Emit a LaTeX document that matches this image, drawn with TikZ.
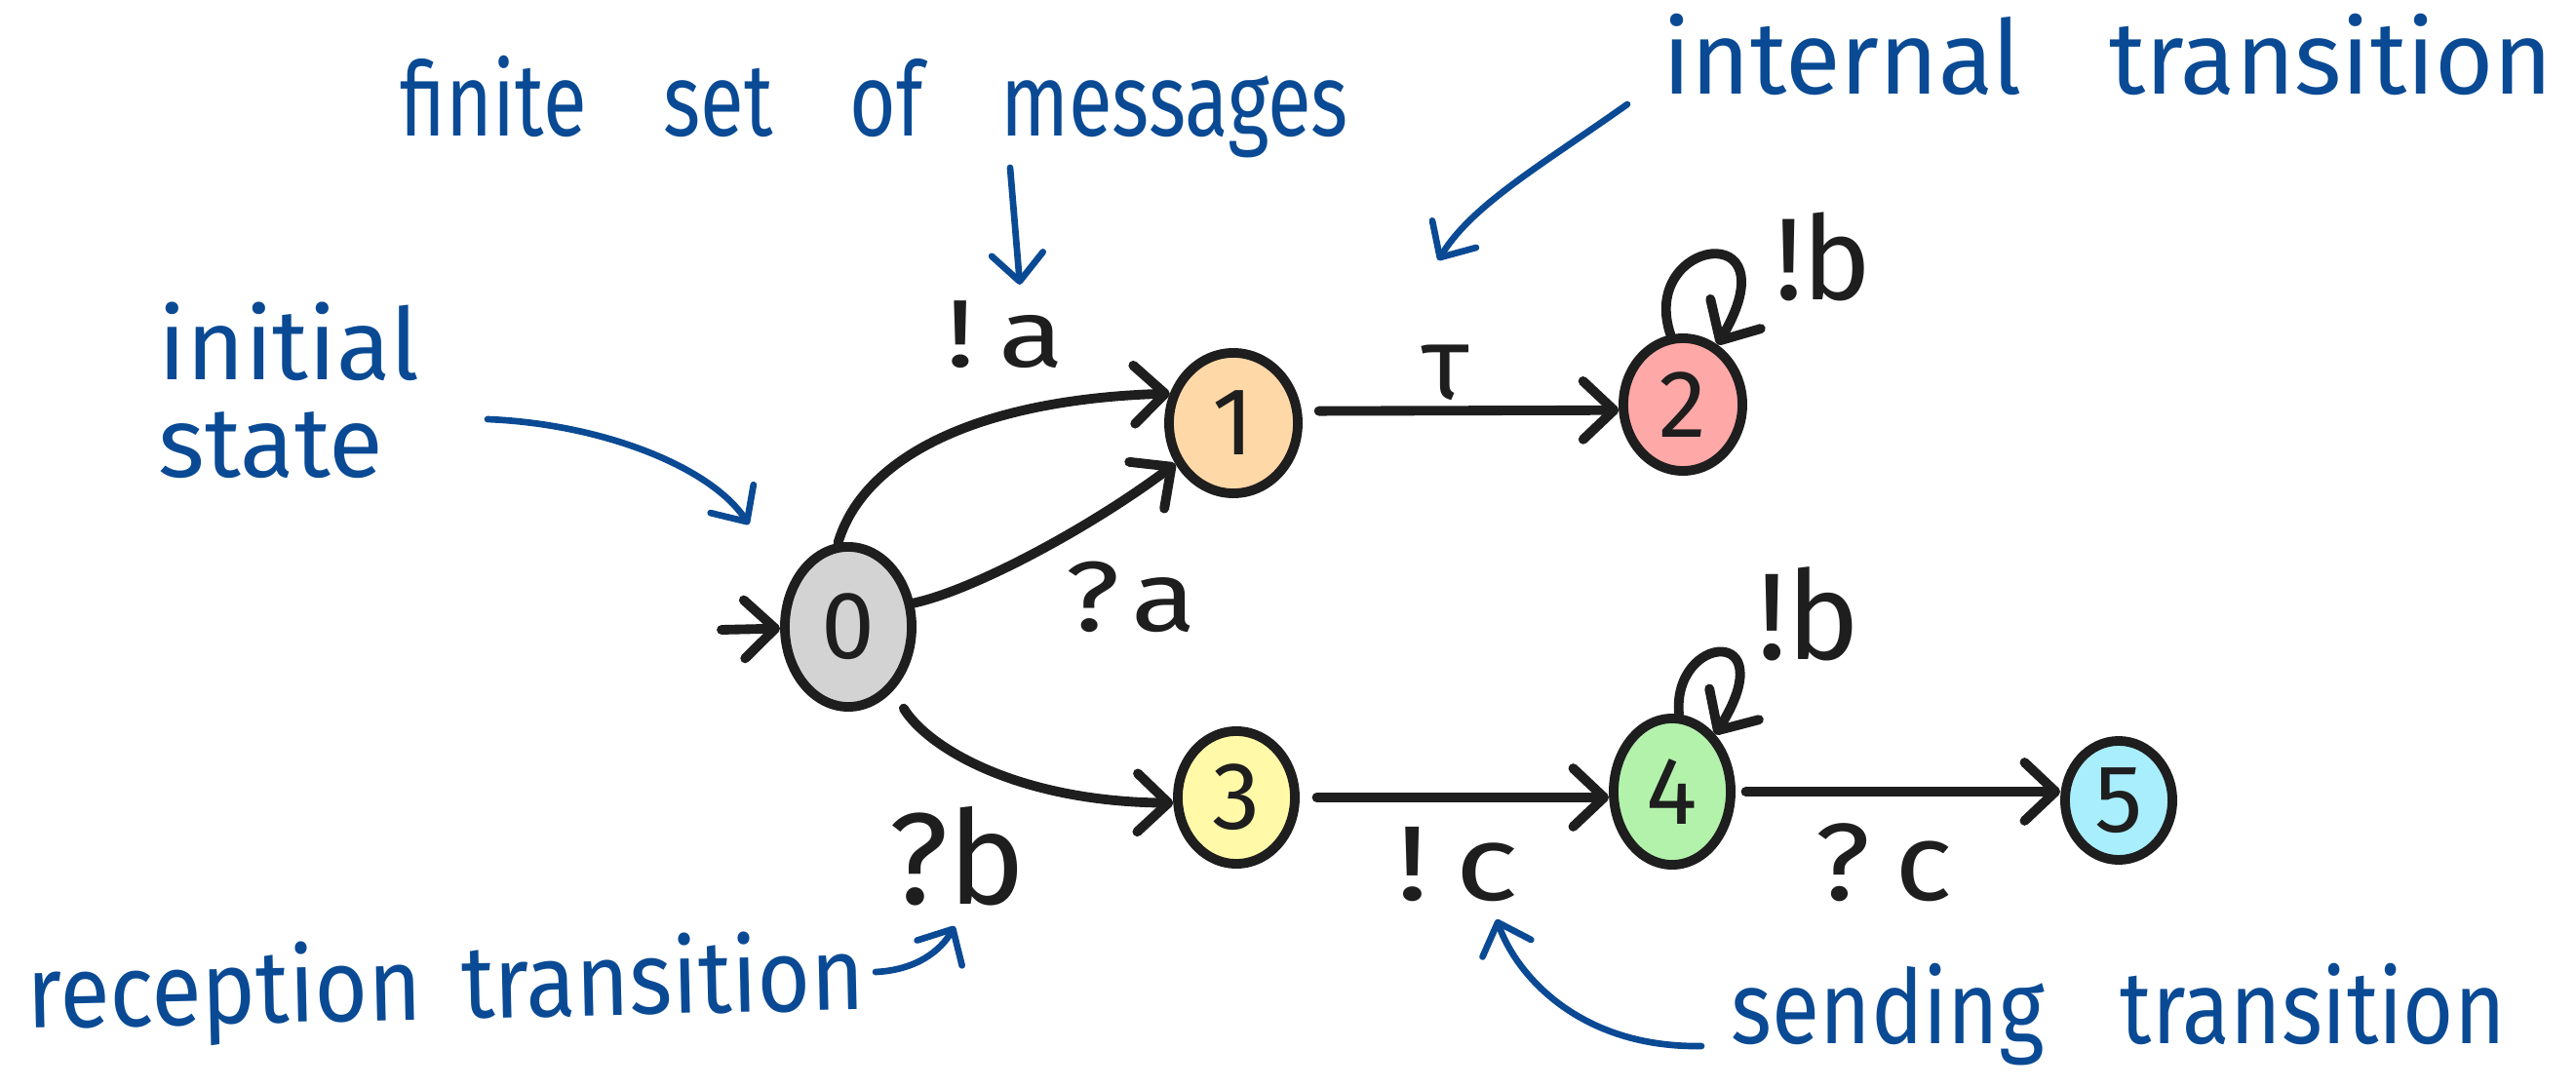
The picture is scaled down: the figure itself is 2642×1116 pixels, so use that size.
\documentclass[tikz,border=0pt]{standalone}
\usepackage{fontspec}
\setmainfont{Fira Sans}
\usetikzlibrary{arrows.meta,shapes.geometric}

\definecolor{ink}{HTML}{1E1E1E}
\definecolor{pen}{HTML}{0A4A94}
\definecolor{fillzero}{HTML}{D3D3D3}
\definecolor{fillone}{HTML}{FFD8A8}
\definecolor{filltwo}{HTML}{FFA8A8}
\definecolor{fillthree}{HTML}{FFF9A8}
\definecolor{fillfour}{HTML}{B2F2AB}
\definecolor{fillfive}{HTML}{A8EEFC}

\tikzset{
  x=0.01cm, y=-0.01cm,
  state/.style={ellipse, draw=ink, line width=2.8pt, inner sep=0pt,
    text=ink, font=\fontsize{28}{30}\selectfont},
  trans/.style={draw=ink, line width=2.8pt, line cap=round,
    -{Straight Barb[length=9pt,width=17pt,round]}},
  act/.style={text=ink, inner sep=0pt, anchor=base},
  note/.style={text=pen, inner sep=0pt, anchor=base west,
    font=\fontsize{30}{25}\selectfont},
  pointer/.style={draw=pen, line width=1.9pt, line cap=round,
    -{Straight Barb[length=8pt,width=15pt,round]}},
}

\begin{document}
\begin{tikzpicture}
\useasboundingbox (0,0) rectangle (2642,1116);

% states
\node[state, fill=fillzero,  minimum width=1.30cm, minimum height=1.64cm] (n0) at (870,643) {0};
\node[state, fill=fillone,   minimum width=1.32cm, minimum height=1.44cm] (n1) at (1265,434) {1};
\node[state, fill=filltwo,   minimum width=1.22cm, minimum height=1.36cm] (n2) at (1726,415) {2};
\node[state, fill=fillthree, minimum width=1.20cm, minimum height=1.36cm] (n3) at (1268,818) {3};
\node[state, fill=fillfour,  minimum width=1.20cm, minimum height=1.50cm] (n4) at (1715,812) {4};
\node[state, fill=fillfive,  minimum width=1.10cm, minimum height=1.22cm] (n5) at (2173,821) {5};

% transitions
\coordinate (init) at (740,646);
\draw[trans] (init) -- (n0);
\draw[trans] (n0.97) .. controls (885,470) and (1000,410) .. (n1.155);
\draw[trans] (n0.20) .. controls (1000,605) and (1120,540) .. (n1.215);
\draw[trans, shorten <=5pt] (n1.10) -- (n2.185);
\draw[trans] (n2.100) .. controls (1680,245) and (1840,220) .. (n2.60);
\draw[trans, shorten <=6pt] (n0.-55) .. controls (950,765) and (1040,822) .. (n3.185);
\draw[trans, shorten <=5pt] (n3.east) -- (n3.east -| n4.west);
\draw[trans] (n4.85) .. controls (1715,650) and (1830,640) .. (n4.53);
\draw[trans, shorten <=3pt] (n4.east) -- (n4.east -| n5.west);

% transition labels
\node[act, font=\fontsize{28}{30}\selectfont] (la1) at (1031,377) {\scalebox{1.25}[1]{!\hspace{0.2em}a}};
\node[act, font=\fontsize{29}{30}\selectfont] (la2) at (1160,648) {\scalebox{1.2}[1]{?\hspace{0.1em}a}};
\node[act, font=\fontsize{30}{30}\selectfont] (ltau) at (1483,410) {τ};
\node[act, font=\fontsize{34}{30}\selectfont] (lb2) at (1870,308) {!b};
\node[act, font=\fontsize{36}{30}\selectfont] (lb4) at (1855,677) {!b};
\node[act, font=\fontsize{38}{30}\selectfont] (lb3) at (982,927) {?b};
\node[act, font=\fontsize{31}{30}\selectfont] (lc4) at (1495,923) {\scalebox{1.25}[1]{!\hspace{0.2em}c}};
\node[act, font=\fontsize{32}{30}\selectfont] (lc5) at (1932,923) {\scalebox{1.1}[1]{?\hspace{0.2em}c}};

% annotations
\node[note] (tmsg) at (410,140)
  {\scalebox{0.775}[1]{finite\hspace{29pt}set\hspace{29pt}of\hspace{29pt}messages}};
\node[note] (tint) at (1705,97)
  {\scalebox{0.98}[1]{internal\hspace{26pt}transition}};
\node[note, align=left, font=\fontsize{29}{28.5}\selectfont] (tinit) at (162,490) {initial\\state};
\node[note, rotate=1.3] (trecv) at (28,1055)
  {\scalebox{0.89}[1]{reception\hspace{13pt}transition}};
\node[note] (tsend) at (1775,1070)
  {\scalebox{0.85}[1]{sending\hspace{26pt}transition}};

% annotation pointers
\coordinate (pmsg-a) at (1036,172);  \coordinate (pmsg-b) at (1046,292);
\coordinate (pint-a) at (1669,107);  \coordinate (pint-b) at (1475,267);
\coordinate (pini-a) at (500,430);   \coordinate (pini-b) at (768,538);
\coordinate (prcv-a) at (898,997);   \coordinate (prcv-b) at (979,950);
\coordinate (psnd-a) at (1745,1073); \coordinate (psnd-b) at (1535,943);
\draw[pointer] (pmsg-a) -- (pmsg-b);
\draw[pointer] (pint-a) .. controls (1580,170) and (1510,210) .. (pint-b);
\draw[pointer] (pini-a) .. controls (620,435) and (730,480) .. (pini-b);
\draw[pointer] (prcv-a) .. controls (940,995) and (965,975) .. (prcv-b);
\draw[pointer] (psnd-a) .. controls (1620,1075) and (1555,1000) .. (psnd-b);
\end{tikzpicture}
\end{document}
